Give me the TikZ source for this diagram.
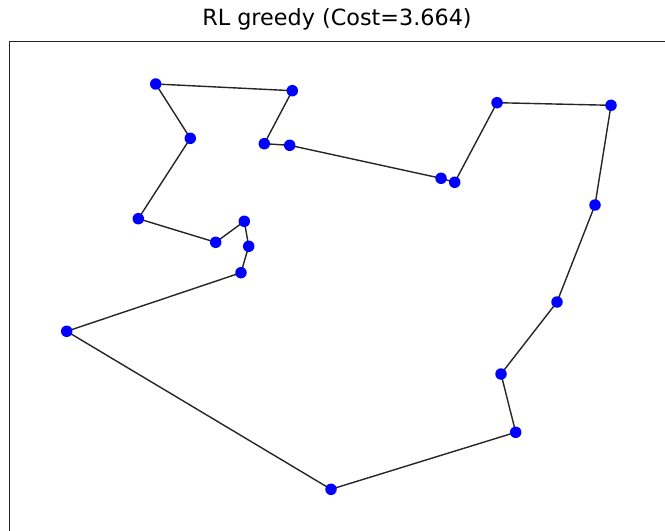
\documentclass[tikz,border=0pt]{standalone}
\usepackage{fontspec}
\setmainfont{DejaVu Sans}
\usetikzlibrary{positioning,backgrounds}
\tikzset{
  tourline/.style={draw=black!85, line width=0.8pt},
  city/.style={circle, fill=blue, inner sep=0pt, minimum size=0.23cm},
  axesframe/.style={draw=black!85, line width=0.8pt},
}

\begin{document}
\begin{tikzpicture}[
  x=0.02cm, y=-0.02cm,
  titletext/.style={font=\fontsize{12.7}{15}\selectfont},
]
  \useasboundingbox (0,0) rectangle (665,530);
  \clip (0,0) rectangle (665,530);
  \node[titletext] (title) at (337,19) {RL greedy (Cost=3.664)};
  \draw[axesframe] (9.5,560) -- (9.5,41.5) -- (700,41.5);
  % cities
  \node[city] (c1) at (155.7,84) {};
  \node[city] (c2) at (292.3,90.7) {};
  \node[city] (c3) at (264.3,143.7) {};
  \node[city] (c4) at (289.7,145.3) {};
  \node[city] (c5) at (441,178.3) {};
  \node[city] (c6) at (454.7,182.3) {};
  \node[city] (c7) at (497,102.7) {};
  \node[city] (c8) at (611,105.3) {};
  \node[city] (c9) at (595,205) {};
  \node[city] (c10) at (557,302) {};
  \node[city] (c11) at (501,374) {};
  \node[city] (c12) at (515.7,432.3) {};
  \node[city] (c13) at (331,489.3) {};
  \node[city] (c14) at (66.7,331.3) {};
  \node[city] (c15) at (241,272.7) {};
  \node[city] (c16) at (248.7,246.3) {};
  \node[city] (c17) at (244.3,221.3) {};
  \node[city] (c18) at (215.7,242.3) {};
  \node[city] (c19) at (138.3,218.7) {};
  \node[city] (c20) at (190.3,138.3) {};
  % tour
  \begin{scope}[on background layer]
    \foreach \a/\b in {c1/c2,c2/c3,c3/c4,c4/c5,c5/c6,c6/c7,c7/c8,c8/c9,c9/c10,c10/c11,
                       c11/c12,c12/c13,c13/c14,c14/c15,c15/c16,c16/c17,c17/c18,c18/c19,c19/c20,c20/c1}
      \draw[tourline] (\a.center) -- (\b.center);
  \end{scope}
\end{tikzpicture}
\end{document}
